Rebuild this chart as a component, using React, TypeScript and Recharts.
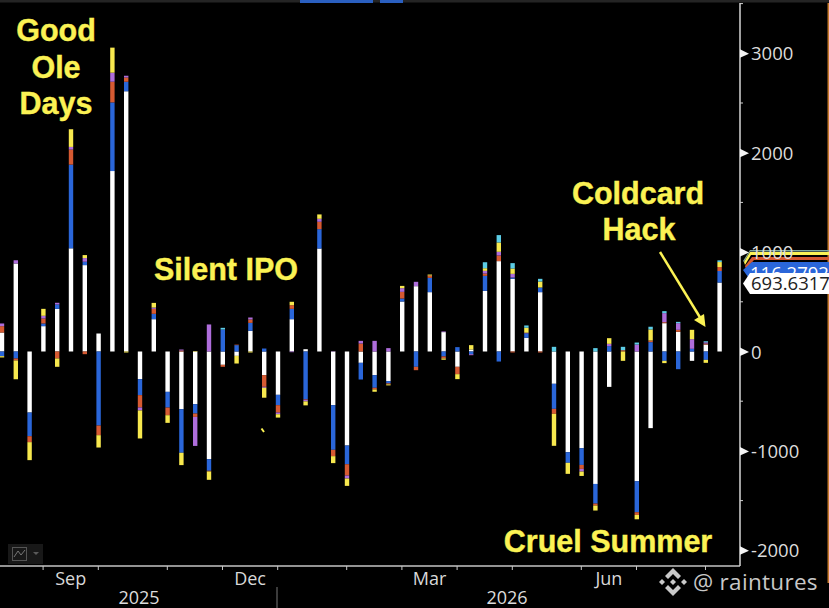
import React from "react";
import { ComposedChart, Bar, XAxis, YAxis } from "recharts";

const whiteFlow = [191,885,-614,255,429,1038,869,181,1815,2619,-278,325,-406,-580,-530,-1083,-134,-44,208,-238,-436,325,23,1036,-540,-946,-114,-238,-298,503,657,597,195,-154,20,610,909,731,138,597,-325,-1013,-973,-1332,-356,0,-1305,-771,285,198,-94,70,693.63];
const blueFlow = [-47,-70,-238,27,44,842,34,-745,691,94,-161,54,-158,-439,-94,-117,221,64,80,30,-104,104,-480,195,-449,-188,-168,-127,-23,30,-154,144,-50,44,-27,151,-101,13,44,47,-252,-107,-168,-198,54,0,-312,94,-94,-178,27,-84,116.28];
const redFlow = [64,-20,-60,50,-70,151,-27,-97,208,44,-124,50,-77,10,-34,-7,-20,5,34,-117,-74,37,-5,74,-64,-114,80,-17,-10,67,-34,23,-20,-74,0,23,57,-10,0,-10,-50,0,-40,-20,0,13,-27,17,10,20,0,10,40];
const purpleFlow = [27,32,0,27,17,27,37,0,91,17,-30,13,0,10,-292,272,0,0,20,-10,-17,-7,-17,30,3,-30,27,107,34,37,44,0,7,0,-10,27,37,37,7,0,0,0,-27,0,23,0,70,0,91,67,97,13,0];
const yellowFlow = [-13,-188,-181,70,-84,178,30,-124,252,-10,-282,47,-77,-124,5,-84,0,-77,-10,-100,-34,34,-40,44,-70,-74,0,-23,-10,23,0,10,-13,-50,44,27,94,54,50,60,-322,-111,-44,-50,57,-94,-44,111,-23,0,94,-30,50];
const cyanFlow = [0,0,0,0,0,0,0,0,0,0,0,0,0,0,0,0,17,0,0,0,0,0,0,0,0,0,0,0,0,0,0,0,0,0,0,60,74,54,23,27,47,0,0,34,0,34,20,27,20,13,0,10,17];

const xTicks = [3,7,12,16,20,25,29,33,37,42,46,51];
const monthLabels: Record<number,string> = {3:"Sep",16:"Dec",29:"Mar",42:"Jun"};
const yTicks = [3500,3000,2500,2000,1500,1000,500,0,-500,-1000,-1500,-2000];
const majorTicks = [3000,2000,1000,0,-1000,-2000];

const data = whiteFlow.map((v,i)=>({i,white:v,blue:blueFlow[i],red:redFlow[i],purple:purpleFlow[i],yellow:yellowFlow[i],cyan:cyanFlow[i]}));

const series = [["white","#ffffff"],["blue","#2a66d9"],["red","#d65a32"],["purple","#ae6ddb"],["yellow","#f7e84e"],["cyan","#5ccde6"]];

const UI = "'Open Sans', 'Noto Sans', sans-serif";
const NOTE = "#fbf254";
const ARIAL = "'Liberation Sans', Arial, sans-serif";

const YTick = (p:any) => {
  const {x,y,payload} = p;
  const v = payload.value;
  const major = majorTicks.includes(v);
  return <g>
    {major
      ? <polygon points={`${x},${y-4} ${x+9},${y+0.5} ${x},${y+4.5}`} fill="#f4f4f4"/>
      : <line x1={x} x2={x+3} y1={y} y2={y} stroke="#d0d0d0" strokeWidth={1}/>}
    {major && <text x={x+11} y={y+7.2} fontFamily={UI} fontSize={18.5} fill="#dcdcdc">{v}</text>}
  </g>;
};

const XTick = (p:any) => {
  const {x,payload} = p;
  const label = monthLabels[payload.value];
  return <g>
    <line x1={x} x2={x} y1={566} y2={570} stroke="#c8c8c8" strokeWidth={1}/>
    {label && <text x={x+27.6} y={584.5} textAnchor="middle" fontFamily={UI} fontSize={18} fill="#d8d8d8">{label}</text>}
  </g>;
};

const Note = ({x,y,children}:any) => <text x={x} y={y} textAnchor="middle" fontFamily={ARIAL} fontWeight={700} fontSize={30.5} fill={NOTE} stroke={NOTE} strokeWidth={0.4}>{children}</text>;

export default function App(){
  return <div style={{position:"absolute",left:0,top:0,width:829,height:608,background:"#000",overflow:"hidden"}}>
    <ComposedChart width={829} height={608} data={data} stackOffset="sign" barSize={4.4} barGap={0}
      margin={{top:3,right:0,bottom:0,left:0}} style={{background:"#000"}}>
      <XAxis dataKey="i" type="number" domain={[-0.123,53.5]} allowDataOverflow ticks={xTicks} interval={0}
        height={42} tickLine={false} tickSize={0} tick={XTick} stroke="#c0c0c0" axisLine={{stroke:"#c4c4c4",strokeWidth:1.5}}/>
      <YAxis orientation="right" type="number" domain={[-2158,3506]} allowDataOverflow ticks={yTicks} interval={0}
        width={89} tickLine={false} tickSize={0} tickMargin={0} tick={YTick} axisLine={{stroke:"#d4d4d4",strokeWidth:1.5}}/>
      {series.map(([k,c])=><Bar key={k} dataKey={k} stackId="flow" fill={c} isAnimationActive={false}/>)}

      <rect x={0} y={0} width={829} height={2.5} fill="#242424"/>
      <rect x={300} y={0} width={73} height={3} fill="#2a5fc0"/>
      <rect x={380} y={0} width={23} height={3} fill="#2a5fc0"/>
      <rect x={827.5} y={3} width={1.5} height={580} fill="#c67a2c"/>

      <text x={139} y={604} textAnchor="middle" fontFamily={UI} fontSize={18} fill="#dcdcdc">2025</text>
      <text x={507} y={604} textAnchor="middle" fontFamily={UI} fontSize={18} fill="#dcdcdc">2026</text>
      <line x1={277} x2={277} y1={587} y2={608} stroke="#777" strokeWidth={1}/>

      <Note x={56} y={41}>Good</Note>
      <Note x={56} y={78}>Ole</Note>
      <Note x={56} y={114}>Days</Note>
      <Note x={226} y={280}>Silent IPO</Note>
      <Note x={638} y={204}>Coldcard</Note>
      <Note x={639} y={240}>Hack</Note>
      <Note x={608} y={552}>Cruel Summer</Note>
      <line x1={660} y1={252} x2={701} y2={319} stroke={NOTE} strokeWidth={2.5}/>
      <polygon points="705.5,327 694,320 704,314" fill={NOTE}/>
      <line x1={261.5} y1={428.5} x2={264} y2={432} stroke={NOTE} strokeWidth={2}/>

      <polygon points="750,250 829,250 829,251.5 750,251.5 744,262 743,261" fill="#7fa89e"/>
      <polygon points="750,252 829,252 829,255 751,255 745,265 744,262" fill={NOTE}/>
      <polygon points="752,257 829,257 829,260 754,260 746,269 745,266" fill="#d65a32"/>
      <polygon points="752,262 829,262 829,277 748,277 743,270" fill="#2a66d9"/>
      <text x={750} y={280} fontFamily={UI} fontSize={18.5} fill="#ffffff">116.2792</text>
      <polygon points="750,273 829,273 829,294 750,294 743,283.5" fill="#ffffff"/>
      <text x={751} y={290} fontFamily={UI} fontSize={18.5} fill="#222222">693.6317</text>

      <rect x={8} y={544} width={35} height={20} fill="#181818"/>
      <rect x={12.5} y={547.5} width={14} height={13} fill="none" stroke="#555" strokeWidth={1}/>
      <polyline points="14,557 18,551 21,555 25,550" fill="none" stroke="#777" strokeWidth={1}/>
      <polygon points="33,552 39,552 36,555" fill="#5a5a5a"/>

      <g fill="#c9c9c9">
        <polygon points="673,568 681,576 678,579 673,574 668,579 665,576"/>
        <polygon points="673,596 681,588 678,585 673,590 668,585 665,588"/>
        <polygon points="662,579 665,582 662,585 659,582"/>
        <polygon points="684,579 687,582 684,585 681,582"/>
        <polygon points="673,579 676,582 673,585 670,582"/>
      </g>
      <text x={693} y={590} fontFamily={UI} fontSize={22.5} fill="#c8c8c8" letterSpacing={0.3}>@ raintures</text>
    </ComposedChart>
  </div>;
}
